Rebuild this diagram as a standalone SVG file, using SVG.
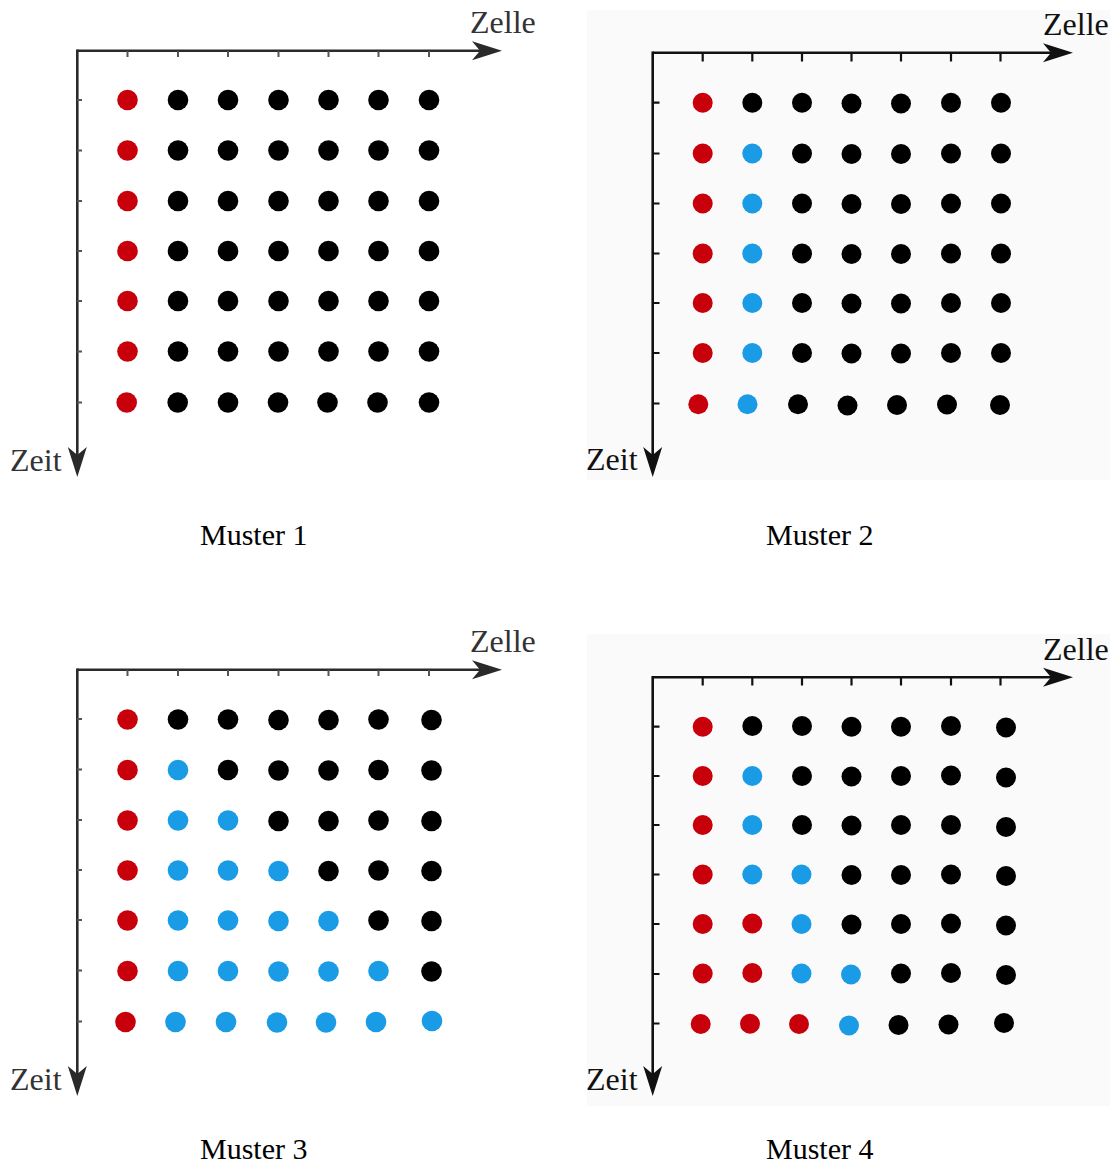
<svg xmlns="http://www.w3.org/2000/svg" width="1110" height="1166" viewBox="0 0 1110 1166">
<defs>
<style>
.r{fill:#c8000c}
.b{fill:#1a9be6}
.k{fill:#000}
.ax{stroke:#111;stroke-width:2.6;fill:none}
.ax1{stroke:#2a2a2a;stroke-width:2.6;fill:none}
.tk{stroke:#111;stroke-width:2.2}
.tk1{stroke:#555;stroke-width:2}
.lbl{font-family:"Liberation Serif","Times New Roman",serif;font-size:32px;fill:#111}
.lbl1{font-family:"Liberation Serif","Times New Roman",serif;font-size:32px;fill:#333}
.cap{font-family:"Liberation Serif","Times New Roman",serif;font-size:30px;fill:#000}
</style>
<marker id="ah" markerUnits="userSpaceOnUse" markerWidth="34" markerHeight="22" viewBox="-10 -11 34 22" refX="0" refY="0" orient="auto">
<path d="M22,0 L-8,-9.5 L0,0 L-8,9.5 Z" fill="#111"/>
</marker>
<marker id="ah1" markerUnits="userSpaceOnUse" markerWidth="34" markerHeight="22" viewBox="-10 -11 34 22" refX="0" refY="0" orient="auto">
<path d="M22,0 L-8,-9.5 L0,0 L-8,9.5 Z" fill="#2a2a2a"/>
</marker>
</defs>
<rect width="1110" height="1166" fill="#fff"/>
<rect x="587" y="10" width="523" height="470" fill="#fafafa"/>
<rect x="587" y="634" width="523" height="472" fill="#fafafa"/>

<g id="connectors">
<path class="ax1" d="M77,50.7 H480" marker-end="url(#ah1)"/>
<path class="ax1" d="M77.3,49.4 V455" marker-end="url(#ah1)"/>
<path class="ax" d="M652.7,52.7 H1051" marker-end="url(#ah)"/>
<path class="ax" d="M652.7,51.4 V455" marker-end="url(#ah)"/>
<path class="ax1" d="M77,669.7 H480" marker-end="url(#ah1)"/>
<path class="ax1" d="M77.3,668.4 V1074" marker-end="url(#ah1)"/>
<path class="ax" d="M652.7,677.3 H1051" marker-end="url(#ah)"/>
<path class="ax" d="M652.7,676 V1074" marker-end="url(#ah)"/>
</g>

<g id="ticks">
<g class="tk1">
<path d="M127.5,51 v6 M178,51 v6 M228,51 v6 M278.5,51 v6 M328.5,51 v6 M378.5,51 v6 M429,51 v6"/>
<path d="M77,100 h5 M77,150.5 h5 M77,201 h5 M77,251 h5 M77,301 h5 M77,351.5 h5 M77,402.5 h5"/>
<path d="M127.5,670 v6 M178,670 v6 M228,670 v6 M278.5,670 v6 M328.5,670 v6 M378.5,670 v6 M429,670 v6"/>
<path d="M77,719 h5 M77,769.5 h5 M77,820 h5 M77,870 h5 M77,920 h5 M77,970.5 h5 M77,1021.5 h5"/>
</g>
<g class="tk">
<path d="M702.7,53 v8.5 M752.3,53 v8.5 M802,53 v8.5 M851.5,53 v8.5 M901,53 v8.5 M951,53 v8.5 M1000.5,53 v8.5"/>
<path d="M653,102.7 h6.5 M653,153.5 h6.5 M653,203.5 h6.5 M653,253.5 h6.5 M653,303 h6.5 M653,353 h6.5 M653,403.5 h6.5"/>
<path d="M702.7,677.6 v8 M752.3,677.6 v8 M802,677.6 v8 M851.5,677.6 v8 M901,677.6 v8 M951,677.6 v8 M1000.5,677.6 v8"/>
<path d="M653,726.7 h6.5 M653,776 h6.5 M653,825 h6.5 M653,874.5 h6.5 M653,924 h6.5 M653,974 h6.5 M653,1023.5 h6.5"/>
</g>
</g>

<g id="panel1">
<text class="lbl1" x="470" y="33">Zelle</text>
<text class="lbl1" x="10" y="470.5">Zeit</text>
<text class="cap" x="200" y="545">Muster 1</text>
<g id="p1-row1"><circle class="r" cx="127.5" cy="100" r="10.3"/><circle class="k" cx="178" cy="100" r="10.3"/><circle class="k" cx="228" cy="100" r="10.3"/><circle class="k" cx="278.5" cy="100" r="10.3"/><circle class="k" cx="328.5" cy="100" r="10.3"/><circle class="k" cx="378.5" cy="100" r="10.3"/><circle class="k" cx="429" cy="100" r="10.3"/></g>
<g id="p1-row2"><circle class="r" cx="127.5" cy="150.5" r="10.3"/><circle class="k" cx="178" cy="150.5" r="10.3"/><circle class="k" cx="228" cy="150.5" r="10.3"/><circle class="k" cx="278.5" cy="150.5" r="10.3"/><circle class="k" cx="328.5" cy="150.5" r="10.3"/><circle class="k" cx="378.5" cy="150.5" r="10.3"/><circle class="k" cx="429" cy="150.5" r="10.3"/></g>
<g id="p1-row3"><circle class="r" cx="127.5" cy="201" r="10.3"/><circle class="k" cx="178" cy="201" r="10.3"/><circle class="k" cx="228" cy="201" r="10.3"/><circle class="k" cx="278.5" cy="201" r="10.3"/><circle class="k" cx="328.5" cy="201" r="10.3"/><circle class="k" cx="378.5" cy="201" r="10.3"/><circle class="k" cx="429" cy="201" r="10.3"/></g>
<g id="p1-row4"><circle class="r" cx="127.5" cy="251" r="10.3"/><circle class="k" cx="178" cy="251" r="10.3"/><circle class="k" cx="228" cy="251" r="10.3"/><circle class="k" cx="278.5" cy="251" r="10.3"/><circle class="k" cx="328.5" cy="251" r="10.3"/><circle class="k" cx="378.5" cy="251" r="10.3"/><circle class="k" cx="429" cy="251" r="10.3"/></g>
<g id="p1-row5"><circle class="r" cx="127.5" cy="301" r="10.3"/><circle class="k" cx="178" cy="301" r="10.3"/><circle class="k" cx="228" cy="301" r="10.3"/><circle class="k" cx="278.5" cy="301" r="10.3"/><circle class="k" cx="328.5" cy="301" r="10.3"/><circle class="k" cx="378.5" cy="301" r="10.3"/><circle class="k" cx="429" cy="301" r="10.3"/></g>
<g id="p1-row6"><circle class="r" cx="127.5" cy="351.5" r="10.3"/><circle class="k" cx="178" cy="351.5" r="10.3"/><circle class="k" cx="228" cy="351.5" r="10.3"/><circle class="k" cx="278.5" cy="351.5" r="10.3"/><circle class="k" cx="328.5" cy="351.5" r="10.3"/><circle class="k" cx="378.5" cy="351.5" r="10.3"/><circle class="k" cx="429" cy="351.5" r="10.3"/></g>
<g id="p1-row7"><circle class="r" cx="126.7" cy="402.5" r="10.3"/><circle class="k" cx="177.7" cy="402.5" r="10.3"/><circle class="k" cx="228" cy="402.5" r="10.3"/><circle class="k" cx="278" cy="402.5" r="10.3"/><circle class="k" cx="327.5" cy="402.5" r="10.3"/><circle class="k" cx="377.5" cy="402.5" r="10.3"/><circle class="k" cx="429" cy="402.5" r="10.3"/></g>
</g>

<g id="panel2">
<text class="lbl" x="1043" y="35">Zelle</text>
<text class="lbl" x="586" y="470">Zeit</text>
<text class="cap" x="766" y="545">Muster 2</text>
<g id="p2-row1"><circle class="r" cx="702.7" cy="102.7" r="10"/><circle class="k" cx="752.3" cy="102.7" r="10"/><circle class="k" cx="802" cy="102.7" r="10"/><circle class="k" cx="851.5" cy="103.5" r="10"/><circle class="k" cx="901" cy="103.5" r="10"/><circle class="k" cx="951" cy="102.7" r="10"/><circle class="k" cx="1001" cy="102.7" r="10"/></g>
<g id="p2-row2"><circle class="r" cx="702.7" cy="153.5" r="10"/><circle class="b" cx="752.3" cy="153.5" r="10"/><circle class="k" cx="802" cy="153.5" r="10"/><circle class="k" cx="851.5" cy="154" r="10"/><circle class="k" cx="901" cy="154" r="10"/><circle class="k" cx="951" cy="153.5" r="10"/><circle class="k" cx="1001" cy="153.5" r="10"/></g>
<g id="p2-row3"><circle class="r" cx="702.7" cy="203.5" r="10"/><circle class="b" cx="752.3" cy="203.5" r="10"/><circle class="k" cx="802" cy="203.5" r="10"/><circle class="k" cx="851.5" cy="204" r="10"/><circle class="k" cx="901" cy="204" r="10"/><circle class="k" cx="951" cy="203.5" r="10"/><circle class="k" cx="1001" cy="203.5" r="10"/></g>
<g id="p2-row4"><circle class="r" cx="702.7" cy="253.5" r="10"/><circle class="b" cx="752.3" cy="253.5" r="10"/><circle class="k" cx="802" cy="253.5" r="10"/><circle class="k" cx="851.5" cy="254" r="10"/><circle class="k" cx="901" cy="254" r="10"/><circle class="k" cx="951" cy="253.5" r="10"/><circle class="k" cx="1001" cy="253.5" r="10"/></g>
<g id="p2-row5"><circle class="r" cx="702.7" cy="303" r="10"/><circle class="b" cx="752.3" cy="303" r="10"/><circle class="k" cx="802" cy="303" r="10"/><circle class="k" cx="851.5" cy="303.5" r="10"/><circle class="k" cx="901" cy="303.5" r="10"/><circle class="k" cx="951" cy="303" r="10"/><circle class="k" cx="1001" cy="303" r="10"/></g>
<g id="p2-row6"><circle class="r" cx="702.7" cy="353" r="10"/><circle class="b" cx="752.3" cy="353" r="10"/><circle class="k" cx="802" cy="353" r="10"/><circle class="k" cx="851.5" cy="353.5" r="10"/><circle class="k" cx="901" cy="353.5" r="10"/><circle class="k" cx="951" cy="353" r="10"/><circle class="k" cx="1001" cy="353" r="10"/></g>
<g id="p2-row7"><circle class="r" cx="698.3" cy="404.3" r="10"/><circle class="b" cx="747.5" cy="404.3" r="10"/><circle class="k" cx="798" cy="404.3" r="10"/><circle class="k" cx="847.5" cy="405.5" r="10"/><circle class="k" cx="897" cy="405" r="10"/><circle class="k" cx="947" cy="404.5" r="10"/><circle class="k" cx="1000" cy="405" r="10"/></g>
</g>

<g id="panel3">
<text class="lbl1" x="470" y="652">Zelle</text>
<text class="lbl1" x="10" y="1089.5">Zeit</text>
<text class="cap" x="200" y="1159">Muster 3</text>
<g id="p3-row1"><circle class="r" cx="127.5" cy="719.5" r="10.3"/><circle class="k" cx="178" cy="719.5" r="10.3"/><circle class="k" cx="228" cy="719.5" r="10.3"/><circle class="k" cx="278.5" cy="720" r="10.3"/><circle class="k" cx="328.5" cy="720" r="10.3"/><circle class="k" cx="378.5" cy="719.5" r="10.3"/><circle class="k" cx="431.5" cy="720" r="10.3"/></g>
<g id="p3-row2"><circle class="r" cx="127.5" cy="770" r="10.3"/><circle class="b" cx="178" cy="770" r="10.3"/><circle class="k" cx="228" cy="770" r="10.3"/><circle class="k" cx="278.5" cy="770.5" r="10.3"/><circle class="k" cx="328.5" cy="770.5" r="10.3"/><circle class="k" cx="378.5" cy="770" r="10.3"/><circle class="k" cx="431.5" cy="770.5" r="10.3"/></g>
<g id="p3-row3"><circle class="r" cx="127.5" cy="820.5" r="10.3"/><circle class="b" cx="178" cy="820.5" r="10.3"/><circle class="b" cx="228" cy="820.5" r="10.3"/><circle class="k" cx="278.5" cy="821" r="10.3"/><circle class="k" cx="328.5" cy="821" r="10.3"/><circle class="k" cx="378.5" cy="820.5" r="10.3"/><circle class="k" cx="431.5" cy="821" r="10.3"/></g>
<g id="p3-row4"><circle class="r" cx="127.5" cy="870.5" r="10.3"/><circle class="b" cx="178" cy="870.5" r="10.3"/><circle class="b" cx="228" cy="870.5" r="10.3"/><circle class="b" cx="278.5" cy="871" r="10.3"/><circle class="k" cx="328.5" cy="871" r="10.3"/><circle class="k" cx="378.5" cy="870.5" r="10.3"/><circle class="k" cx="431.5" cy="871" r="10.3"/></g>
<g id="p3-row5"><circle class="r" cx="127.5" cy="920.5" r="10.3"/><circle class="b" cx="178" cy="920.5" r="10.3"/><circle class="b" cx="228" cy="920.5" r="10.3"/><circle class="b" cx="278.5" cy="921" r="10.3"/><circle class="b" cx="328.5" cy="921" r="10.3"/><circle class="k" cx="378.5" cy="920.5" r="10.3"/><circle class="k" cx="431.5" cy="921" r="10.3"/></g>
<g id="p3-row6"><circle class="r" cx="127.5" cy="971" r="10.3"/><circle class="b" cx="178" cy="971" r="10.3"/><circle class="b" cx="228" cy="971" r="10.3"/><circle class="b" cx="278.5" cy="971.5" r="10.3"/><circle class="b" cx="328.5" cy="971.5" r="10.3"/><circle class="b" cx="378.5" cy="971" r="10.3"/><circle class="k" cx="431.5" cy="971.5" r="10.3"/></g>
<g id="p3-row7"><circle class="r" cx="125.5" cy="1022" r="10.3"/><circle class="b" cx="175.5" cy="1022" r="10.3"/><circle class="b" cx="226" cy="1022" r="10.3"/><circle class="b" cx="277" cy="1022.5" r="10.3"/><circle class="b" cx="326" cy="1022.5" r="10.3"/><circle class="b" cx="376" cy="1022" r="10.3"/><circle class="b" cx="432" cy="1021" r="10.3"/></g>
</g>

<g id="panel4">
<text class="lbl" x="1043" y="660">Zelle</text>
<text class="lbl" x="586" y="1090">Zeit</text>
<text class="cap" x="766" y="1159">Muster 4</text>
<g id="p4-row1"><circle class="r" cx="702.7" cy="726.7" r="10"/><circle class="k" cx="752.3" cy="726" r="10"/><circle class="k" cx="802" cy="726" r="10"/><circle class="k" cx="851.5" cy="726.7" r="10"/><circle class="k" cx="901" cy="726.7" r="10"/><circle class="k" cx="951" cy="726" r="10"/><circle class="k" cx="1006" cy="727.5" r="10"/></g>
<g id="p4-row2"><circle class="r" cx="702.7" cy="776" r="10"/><circle class="b" cx="752.3" cy="776" r="10"/><circle class="k" cx="802" cy="776" r="10"/><circle class="k" cx="851.5" cy="776.5" r="10"/><circle class="k" cx="901" cy="776" r="10"/><circle class="k" cx="951" cy="775.5" r="10"/><circle class="k" cx="1006" cy="777.5" r="10"/></g>
<g id="p4-row3"><circle class="r" cx="702.7" cy="825" r="10"/><circle class="b" cx="752.3" cy="825" r="10"/><circle class="k" cx="802" cy="825" r="10"/><circle class="k" cx="851.5" cy="825.5" r="10"/><circle class="k" cx="901" cy="825" r="10"/><circle class="k" cx="951" cy="825" r="10"/><circle class="k" cx="1006" cy="827" r="10"/></g>
<g id="p4-row4"><circle class="r" cx="702.7" cy="874.5" r="10"/><circle class="b" cx="752.3" cy="874.5" r="10"/><circle class="b" cx="801.5" cy="874.5" r="10"/><circle class="k" cx="851.5" cy="875" r="10"/><circle class="k" cx="901" cy="875" r="10"/><circle class="k" cx="951" cy="874.5" r="10"/><circle class="k" cx="1006" cy="876" r="10"/></g>
<g id="p4-row5"><circle class="r" cx="702.7" cy="924" r="10"/><circle class="r" cx="752.3" cy="923.5" r="10"/><circle class="b" cx="801.5" cy="924" r="10"/><circle class="k" cx="851.5" cy="924.5" r="10"/><circle class="k" cx="901" cy="924" r="10"/><circle class="k" cx="951" cy="923.5" r="10"/><circle class="k" cx="1006" cy="925.5" r="10"/></g>
<g id="p4-row6"><circle class="r" cx="702.7" cy="973.5" r="10"/><circle class="r" cx="752.3" cy="973" r="10"/><circle class="b" cx="801.5" cy="973.5" r="10"/><circle class="b" cx="851" cy="974.5" r="10"/><circle class="k" cx="901" cy="973.5" r="10"/><circle class="k" cx="951" cy="973" r="10"/><circle class="k" cx="1006" cy="975" r="10"/></g>
<g id="p4-row7"><circle class="r" cx="700.7" cy="1024" r="10"/><circle class="r" cx="750" cy="1023.7" r="10"/><circle class="r" cx="799" cy="1024" r="10"/><circle class="b" cx="849" cy="1025.5" r="10"/><circle class="k" cx="898.5" cy="1025" r="10"/><circle class="k" cx="948.5" cy="1024.5" r="10"/><circle class="k" cx="1004" cy="1023" r="10"/></g>
</g>
</svg>
